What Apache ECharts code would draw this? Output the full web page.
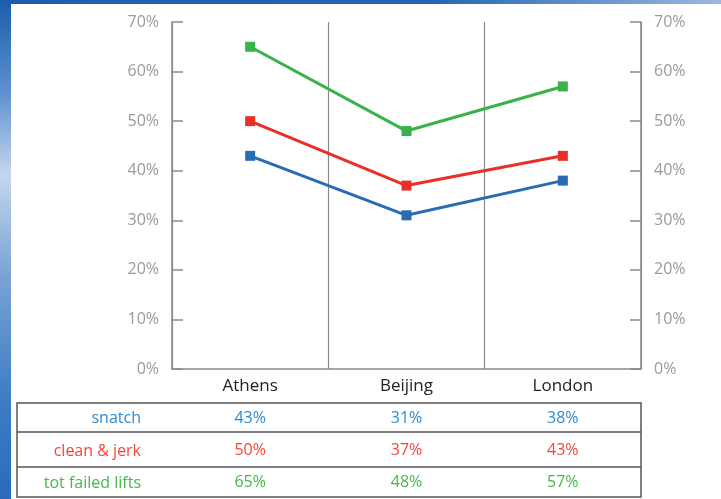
<!DOCTYPE html>
<html>
<head>
<meta charset="utf-8">
<script src="https://cdn.jsdelivr.net/npm/echarts@6/dist/echarts.min.js"></script>
<style>
  html, body { margin: 0; padding: 0; background: #fff; }
  #chart { width: 721px; height: 499px; }
</style>
</head>
<body>
<div id="chart"></div>
<script>
// Failed lift rates at three Olympic Games
const cities = ['Athens', 'Beijing', 'London'];
const snatch = [43, 31, 38];
const cleanJerk = [50, 37, 43];
const totFailed = [65, 48, 57];
const rowNames = ['snatch', 'clean & jerk', 'tot failed lifts'];
const yTicks = [0, 10, 20, 30, 40, 50, 60, 70];

const lineColors = ['#2a6cb4', '#ea2f26', '#37b34a'];
const textColors = ['#2f8bd2', '#f0473a', '#46b84a'];
const FONT = '"Open Sans", "DejaVu Sans", sans-serif';

const rows = [snatch, cleanJerk, totFailed];

const chart = echarts.init(document.getElementById('chart'), null, { renderer: 'canvas' });

const yAxisCommon = {
  type: 'value',
  min: yTicks[0],
  max: yTicks[yTicks.length - 1],
  interval: 10,
  axisLine: { show: true, lineStyle: { color: '#8a8a8a', width: 1.5 } },
  axisTick: { show: true, inside: true, length: 11, lineStyle: { color: '#8a8a8a', width: 1.5 } },
  splitLine: { show: false },
  axisLabel: { color: '#9a9a9a', fontSize: 16, fontFamily: FONT, margin: 13, formatter: v => v + '%' }
};

// hidden category axes whose labels form the table rows
const rowCenters = [417.5, 450, 482];
const tableAxes = rows.map((vals, r) => ({
  type: 'category',
  data: cities,
  position: 'bottom',
  offset: 0,
  axisLine: { show: false },
  axisTick: { show: false },
  splitLine: { show: false },
  axisLabel: {
    interval: 0,
    color: textColors[r],
    fontSize: 16,
    fontFamily: FONT,
    margin: Math.round(rowCenters[r] - 369 - 8),
    formatter: (v, i) => vals[i] + '%'
  }
}));

const tableTop = 403, rowLines = [432, 467], tableBottom = 497, tableLeft = 17, tableRight = 641;
const graphics = [
  // blue frame strips
  {
    type: 'rect', shape: { x: 0, y: 0, width: 11, height: 499 },
    style: { fill: new echarts.graphic.LinearGradient(0, 0, 0, 1, [
      { offset: 0, color: '#1b5eaa' },
      { offset: 0.18, color: '#5b8fcf' },
      { offset: 0.35, color: '#c4d6ee' },
      { offset: 0.55, color: '#7aa3d6' },
      { offset: 0.8, color: '#3e7cc5' },
      { offset: 1, color: '#2a6bba' }
    ]) }
  },
  {
    type: 'rect', shape: { x: 0, y: 0, width: 721, height: 4 },
    style: { fill: new echarts.graphic.LinearGradient(0, 0, 1, 0, [
      { offset: 0, color: '#1b5eaa' },
      { offset: 0.6, color: '#2466b2' },
      { offset: 1, color: '#9bb8e0' }
    ]) }
  },
  // table frame
  {
    type: 'rect', shape: { x: tableLeft, y: tableTop, width: tableRight - tableLeft, height: tableBottom - tableTop },
    style: { fill: 'none', stroke: '#555', lineWidth: 1.5 }
  }
].concat(rowLines.map(y => ({
  type: 'line', shape: { x1: tableLeft, y1: y, x2: tableRight, y2: y },
  style: { stroke: '#555', lineWidth: 1.5 }
}))).concat(rowNames.map((name, r) => ({
  type: 'text',
  x: 141,
  y: rowCenters[r] + 1,
  style: {
    text: name, fill: textColors[r], fontSize: 16, fontFamily: FONT,
    align: 'right', verticalAlign: 'middle'
  }
})));

chart.setOption({
  backgroundColor: '#ffffff',
  animation: false,
  grid: { left: 172, right: 80, top: 22, bottom: 130, containLabel: false },
  xAxis: [{
    type: 'category',
    data: cities,
    boundaryGap: true,
    axisLine: { show: true, lineStyle: { color: '#8a8a8a', width: 1.5 } },
    axisTick: { show: false },
    splitLine: { show: true, lineStyle: { color: '#8a8a8a', width: 1.2 } },
    axisLabel: { interval: 0, color: '#222', fontSize: 17, fontFamily: FONT, margin: 9 }
  }].concat(tableAxes),
  yAxis: [
    Object.assign({ position: 'left' }, yAxisCommon),
    Object.assign({ position: 'right' }, yAxisCommon)
  ],
  series: rows.map((vals, r) => ({
    name: rowNames[r],
    type: 'line',
    data: vals,
    xAxisIndex: 0,
    yAxisIndex: 0,
    symbol: 'rect',
    symbolSize: 10,
    lineStyle: { color: lineColors[r], width: 3 },
    itemStyle: { color: lineColors[r] }
  })),
  graphic: graphics
});
</script>
</body>
</html>
